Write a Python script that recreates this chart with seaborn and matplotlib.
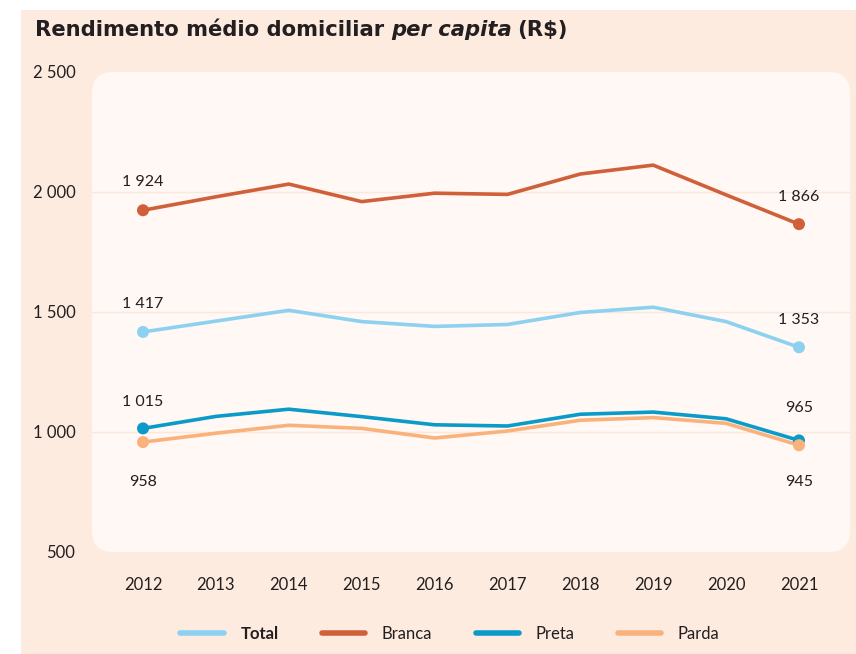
import matplotlib
matplotlib.use("Agg")
import matplotlib.pyplot as plt
from matplotlib.patches import FancyBboxPatch, Rectangle
from matplotlib.lines import Line2D
import seaborn as sns
import pandas as pd

years = [2012, 2013, 2014, 2015, 2016, 2017, 2018, 2019, 2020, 2021]
total = [1417, 1462, 1507, 1460, 1440, 1448, 1498, 1520, 1460, 1353]
branca = [1924, 1980, 2033, 1960, 1995, 1990, 2075, 2112, 1988, 1866]
preta = [1015, 1065, 1095, 1064, 1030, 1025, 1074, 1083, 1055, 965]
parda = [958, 995, 1028, 1015, 975, 1004, 1049, 1060, 1036, 945]
series = ["Total", "Branca", "Preta", "Parda"]
colors = ["#8dd1f1", "#d0603a", "#0b9bc9", "#f9b27c"]
yticks = [500, 1000, 1500, 2000, 2500]

df = pd.DataFrame({"ano": years * 4,
                   "valor": total + branca + preta + parda,
                   "cor": sum([[s] * len(years) for s in series], [])})
pal = dict(zip(series, colors))

sns.set_theme(style="white")
plt.rcParams["font.family"] = ["Lato", "DejaVu Sans"]
txt = "#231f20"
peach = "#fdebdf"
inner = "#fff8f4"

fig = plt.figure(figsize=(8.56, 6.54), dpi=100)
fig.patch.set_facecolor("white")
fig.add_artist(Rectangle((21 / 856, 0), 1, 1 - 10 / 654, transform=fig.transFigure,
                         facecolor=peach, edgecolor="none", zorder=-10))

ax = fig.add_axes([92 / 856, (654 - 552) / 654, (850 - 92) / 856, (552 - 72) / 654])
ax.set_facecolor("none")
ax.add_patch(FancyBboxPatch((0, 0), 1, 1, boxstyle="round,pad=0,rounding_size=0.028",
                            transform=ax.transAxes, facecolor=inner, edgecolor="none",
                            zorder=0, mutation_aspect=758 / 480))
for y in [1000, 1500, 2000]:
    ax.axhline(y, color="#fbe8dc", lw=1, zorder=1)

sns.lineplot(data=df, x="ano", y="valor", hue="cor", palette=pal, lw=2.6,
             legend=False, ax=ax, zorder=3)
ends = df[df["ano"].isin([years[0], years[-1]])]
sns.scatterplot(data=ends, x="ano", y="valor", hue="cor", palette=pal, s=75,
                edgecolor="none", legend=False, ax=ax, zorder=4)

def fmt(v):
    return f"{v:,}".replace(",", " ")

offsets = {("Branca", 0): 28, ("Total", 0): 28, ("Preta", 0): 26, ("Parda", 0): -40,
           ("Branca", -1): 27, ("Total", -1): 27, ("Preta", -1): 32, ("Parda", -1): -37}
vals = dict(zip(series, [total, branca, preta, parda]))
for (s, i), off in offsets.items():
    ax.annotate(fmt(vals[s][i]), (years[i], vals[s][i]), xytext=(0, off),
                textcoords="offset pixels", ha="center", va="center",
                fontsize=11.5, color=txt, zorder=5)

ax.set_xlim(2011.3, 2021.7)
ax.set_ylim(500, 2500)
ax.set_xticks(years)
ax.set_yticks(yticks)
ax.set_yticklabels([fmt(v) for v in yticks])
ax.tick_params(axis="both", length=0, labelsize=12, colors=txt)
ax.tick_params(axis="x", pad=18)
ax.tick_params(axis="y", pad=12)
ax.set_xlabel("")
ax.set_ylabel("")
for sp in ax.spines.values():
    sp.set_visible(False)

# title: bold with italic "per capita"
tkw = dict(fontsize=15.2, fontweight="bold", color=txt, va="center", ha="left",
           family="DejaVu Sans")
ty = 1 - 30 / 654
fig.text(35 / 856, ty, "Rendimento médio domiciliar ", **tkw)
fig.canvas.draw()
bb = fig.texts[-1].get_window_extent()
fig.text(bb.x1 / 856, ty, "per capita", fontstyle="italic", **tkw)
fig.canvas.draw()
bb2 = fig.texts[-1].get_window_extent()
fig.text((bb2.x1 + 5) / 856, ty, "(R$)", **tkw)

handles = [Line2D([], [], color=c, lw=4) for c in colors]
leg = fig.legend(handles, series, loc="center", bbox_to_anchor=(450 / 856, 1 - 634 / 654),
                 ncol=4, frameon=False, fontsize=12, handlelength=2.6,
                 columnspacing=2.6, handletextpad=1.0)
for t in leg.get_texts():
    t.set_color(txt)
leg.get_texts()[0].set_fontweight("bold")

fig.savefig("out.png", dpi=100, facecolor=fig.get_facecolor())
